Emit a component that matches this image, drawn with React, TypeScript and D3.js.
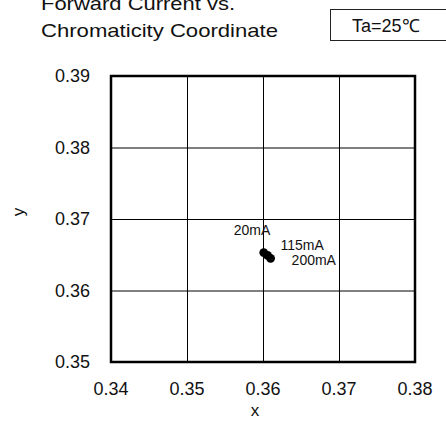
import React, { useRef, useEffect } from 'react';
import * as d3 from 'd3';

const xTicks = [0.34, 0.35, 0.36, 0.37, 0.38];
const yTicks = [0.35, 0.36, 0.37, 0.38, 0.39];
const currents = ['20mA', '115mA', '200mA'];
const xValues = [0.3601, 0.3606, 0.3610];
const yValues = [0.3653, 0.3649, 0.3645];

const App: React.FC = () => {
  const svgRef = useRef<SVGSVGElement>(null);

  useEffect(() => {
    if (!svgRef.current) return;
    const svg = d3.select(svgRef.current);
    svg.selectAll('*').remove();

    const margin = { top: 76, right: 31, bottom: 60, left: 111 };
    const width = 446 - margin.left - margin.right;
    const height = 422 - margin.top - margin.bottom;
    const font = 'Liberation Sans, Arial, sans-serif';

    const x = d3.scaleLinear().domain([0.34, 0.38]).range([0, width]);
    const y = d3.scaleLinear().domain([0.35, 0.39]).range([height, 0]);

    // Title (the source font has wide glyphs, so stretch them)
    svg.append('text')
      .attr('x', 41).attr('y', 10)
      .attr('textLength', 194).attr('lengthAdjust', 'spacingAndGlyphs')
      .style('font-family', font).style('font-size', '19px').attr('fill', '#111')
      .text('Forward Current vs.');
    svg.append('text')
      .attr('x', 41).attr('y', 37)
      .attr('textLength', 237).attr('lengthAdjust', 'spacingAndGlyphs')
      .style('font-family', font).style('font-size', '19px').attr('fill', '#111')
      .text('Chromaticity Coordinate');

    // Condition box
    svg.append('rect')
      .attr('x', 330.5).attr('y', 9.5).attr('width', 130).attr('height', 31)
      .attr('fill', 'none').attr('stroke', '#222').attr('stroke-width', 1);
    svg.append('text')
      .attr('x', 352).attr('y', 32)
      .style('font-family', font).style('font-size', '18px').attr('fill', '#111')
      .text('Ta=25℃');

    const g = svg.append('g').attr('transform', `translate(${margin.left},${margin.top})`);

    // Grid
    g.append('g')
      .attr('transform', `translate(0,${height})`)
      .call(d3.axisBottom(x).tickValues(xTicks).tickSize(-height).tickFormat(() => ''))
      .call(s => s.select('.domain').remove())
      .selectAll('line').attr('stroke', '#000').attr('stroke-width', 1);
    g.append('g')
      .call(d3.axisLeft(y).tickValues(yTicks).tickSize(-width).tickFormat(() => ''))
      .call(s => s.select('.domain').remove())
      .selectAll('line').attr('stroke', '#000').attr('stroke-width', 1);

    // Frame
    g.append('rect')
      .attr('width', width).attr('height', height)
      .attr('fill', 'none').attr('stroke', '#000').attr('stroke-width', 2.5);

    // Tick labels
    g.selectAll('text.xt')
      .data(xTicks).join('text')
      .attr('class', 'xt')
      .attr('x', d => x(d)).attr('y', height + 33)
      .attr('text-anchor', 'middle')
      .style('font-family', font).style('font-size', '18px').attr('fill', '#111')
      .text(d => d3.format('.2f')(d));
    g.selectAll('text.yt')
      .data(yTicks).join('text')
      .attr('class', 'yt')
      .attr('x', -21).attr('y', d => y(d) + 6)
      .attr('text-anchor', 'end')
      .style('font-family', font).style('font-size', '18px').attr('fill', '#111')
      .text(d => d3.format('.2f')(d));

    // Axis titles
    svg.append('text')
      .attr('x', margin.left + width / 2 - 8).attr('y', 416)
      .attr('text-anchor', 'middle')
      .style('font-family', font).style('font-size', '17px').attr('fill', '#111')
      .text('x');
    svg.append('text')
      .attr('transform', 'translate(24,212) rotate(-90)')
      .attr('text-anchor', 'middle')
      .style('font-family', font).style('font-size', '17px').attr('fill', '#111')
      .text('y');

    // Points
    g.selectAll('circle')
      .data(currents).join('circle')
      .attr('cx', (_, i) => x(xValues[i]))
      .attr('cy', (_, i) => y(yValues[i]))
      .attr('r', 4.4)
      .attr('fill', '#000');

    // Point labels
    const labelOffsets = [[-30, -18], [13, -5], [21, 7]];
    g.selectAll('text.pl')
      .data(currents).join('text')
      .attr('class', 'pl')
      .attr('x', (_, i) => x(xValues[i]) + labelOffsets[i][0])
      .attr('y', (_, i) => y(yValues[i]) + labelOffsets[i][1])
      .style('font-family', font).style('font-size', '14px').attr('fill', '#111')
      .text(d => d);
  }, []);

  return (
    <svg ref={svgRef} width={446} height={422}
      style={{ position: 'absolute', left: 0, top: 0, background: '#fff' }} />
  );
};

export default App;
